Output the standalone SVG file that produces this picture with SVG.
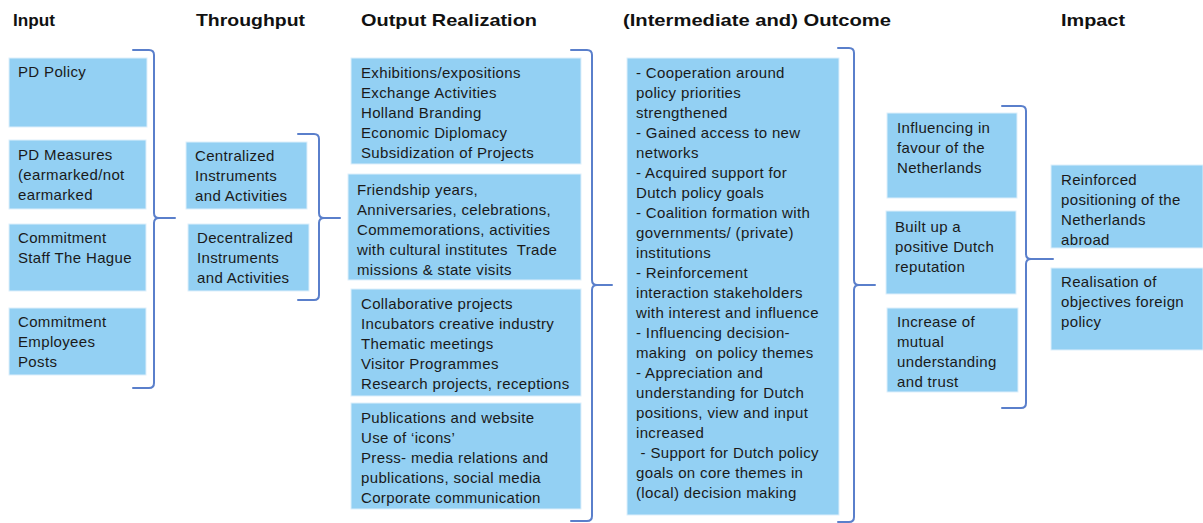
<svg xmlns="http://www.w3.org/2000/svg" width="1203" height="523" viewBox="0 0 1203 523">
  <style>
    .box { fill: #93D0F3; stroke: #DDEFFB; stroke-width: 1; }
    .hd { font-family: "Liberation Sans", Arial, sans-serif; font-weight: bold; font-size: 17px; fill: #111; }
    .tx { font-family: "Liberation Sans", Arial, sans-serif; font-size: 15px; letter-spacing: 0.35px; fill: #1a1a1a; white-space: pre; }
    .brace { fill: none; stroke: #5A7FCB; stroke-width: 2; stroke-linejoin: round; stroke-linecap: round; }
  </style>

  <!-- column headings -->
  <g id="headings">
    <text class="hd" x="13" y="26" textLength="42" lengthAdjust="spacingAndGlyphs">Input</text>
    <text class="hd" x="196" y="26" textLength="109" lengthAdjust="spacingAndGlyphs">Throughput</text>
    <text class="hd" x="361" y="26" textLength="176" lengthAdjust="spacingAndGlyphs">Output Realization</text>
    <text class="hd" x="623" y="26" textLength="268" lengthAdjust="spacingAndGlyphs">(Intermediate and) Outcome</text>
    <text class="hd" x="1061" y="26" textLength="64" lengthAdjust="spacingAndGlyphs">Impact</text>
  </g>

  <!-- Input column -->
  <g id="input-pd-policy">
    <rect class="box" x="9" y="58" width="138" height="69"/>
    <text class="tx" x="18" y="77">PD Policy</text>
  </g>
  <g id="input-pd-measures">
    <rect class="box" x="9" y="140" width="137" height="69"/>
    <text class="tx" x="18" y="160">PD Measures</text>
    <text class="tx" x="18" y="180">(earmarked/not</text>
    <text class="tx" x="18" y="200">earmarked</text>
  </g>
  <g id="input-staff">
    <rect class="box" x="9" y="224" width="137" height="67"/>
    <text class="tx" x="18" y="243">Commitment</text>
    <text class="tx" x="18" y="263">Staff The Hague</text>
  </g>
  <g id="input-employees">
    <rect class="box" x="9" y="308" width="137" height="67"/>
    <text class="tx" x="18" y="327">Commitment</text>
    <text class="tx" x="18" y="347">Employees</text>
    <text class="tx" x="18" y="367">Posts</text>
  </g>

  <!-- Throughput column -->
  <g id="throughput-centralized">
    <rect class="box" x="186" y="142" width="121" height="67"/>
    <text class="tx" x="195" y="161">Centralized</text>
    <text class="tx" x="195" y="181">Instruments</text>
    <text class="tx" x="195" y="201">and Activities</text>
  </g>
  <g id="throughput-decentralized">
    <rect class="box" x="188" y="224" width="121" height="67"/>
    <text class="tx" x="197" y="243">Decentralized</text>
    <text class="tx" x="197" y="263">Instruments</text>
    <text class="tx" x="197" y="283">and Activities</text>
  </g>

  <!-- Output realization column -->
  <g id="output-exhibitions">
    <rect class="box" x="351" y="58" width="230" height="106"/>
    <text class="tx" x="361" y="78">Exhibitions/expositions</text>
    <text class="tx" x="361" y="98">Exchange Activities</text>
    <text class="tx" x="361" y="118">Holland Branding</text>
    <text class="tx" x="361" y="138">Economic Diplomacy</text>
    <text class="tx" x="361" y="158">Subsidization of Projects</text>
  </g>
  <g id="output-friendship">
    <rect class="box" x="348" y="174" width="233" height="106"/>
    <text class="tx" x="357" y="195">Friendship years,</text>
    <text class="tx" x="357" y="215">Anniversaries, celebrations,</text>
    <text class="tx" x="357" y="235">Commemorations, activities</text>
    <text class="tx" x="357" y="255">with cultural institutes  Trade</text>
    <text class="tx" x="357" y="275">missions &amp; state visits</text>
  </g>
  <g id="output-collaborative">
    <rect class="box" x="351" y="289" width="230" height="107"/>
    <text class="tx" x="361" y="309">Collaborative projects</text>
    <text class="tx" x="361" y="329">Incubators creative industry</text>
    <text class="tx" x="361" y="349">Thematic meetings</text>
    <text class="tx" x="361" y="369">Visitor Programmes</text>
    <text class="tx" x="361" y="389">Research projects, receptions</text>
  </g>
  <g id="output-publications">
    <rect class="box" x="351" y="403" width="230" height="106"/>
    <text class="tx" x="361" y="423">Publications and website</text>
    <text class="tx" x="361" y="443">Use of ‘icons’</text>
    <text class="tx" x="361" y="463">Press- media relations and</text>
    <text class="tx" x="361" y="483">publications, social media</text>
    <text class="tx" x="361" y="503">Corporate communication</text>
  </g>

  <!-- Outcome column -->
  <g id="outcome">
    <rect class="box" x="627" y="58" width="212" height="457"/>
    <text class="tx" x="636" y="78">- Cooperation around</text>
    <text class="tx" x="636" y="98">policy priorities</text>
    <text class="tx" x="636" y="118">strengthened</text>
    <text class="tx" x="636" y="138">- Gained access to new</text>
    <text class="tx" x="636" y="158">networks</text>
    <text class="tx" x="636" y="178">- Acquired support for</text>
    <text class="tx" x="636" y="198">Dutch policy goals</text>
    <text class="tx" x="636" y="218">- Coalition formation with</text>
    <text class="tx" x="636" y="238">governments/ (private)</text>
    <text class="tx" x="636" y="258">institutions</text>
    <text class="tx" x="636" y="278">- Reinforcement</text>
    <text class="tx" x="636" y="298">interaction stakeholders</text>
    <text class="tx" x="636" y="318">with interest and influence</text>
    <text class="tx" x="636" y="338">- Influencing decision-</text>
    <text class="tx" x="636" y="358">making  on policy themes</text>
    <text class="tx" x="636" y="378">- Appreciation and</text>
    <text class="tx" x="636" y="398">understanding for Dutch</text>
    <text class="tx" x="636" y="418">positions, view and input</text>
    <text class="tx" x="636" y="438">increased</text>
    <text class="tx" x="636" y="458"> - Support for Dutch policy</text>
    <text class="tx" x="636" y="478">goals on core themes in</text>
    <text class="tx" x="636" y="498">(local) decision making</text>
  </g>

  <!-- Intermediate outcomes -->
  <g id="intermediate-influencing">
    <rect class="box" x="887" y="113" width="130" height="85"/>
    <text class="tx" x="897" y="133">Influencing in</text>
    <text class="tx" x="897" y="153">favour of the</text>
    <text class="tx" x="897" y="173">Netherlands</text>
  </g>
  <g id="intermediate-reputation">
    <rect class="box" x="886" y="211" width="130" height="83"/>
    <text class="tx" x="895" y="232">Built up a</text>
    <text class="tx" x="895" y="252">positive Dutch</text>
    <text class="tx" x="895" y="272">reputation</text>
  </g>
  <g id="intermediate-trust">
    <rect class="box" x="887" y="308" width="131" height="84"/>
    <text class="tx" x="897" y="327">Increase of</text>
    <text class="tx" x="897" y="347">mutual</text>
    <text class="tx" x="897" y="367">understanding</text>
    <text class="tx" x="897" y="387">and trust</text>
  </g>

  <!-- Impact column -->
  <g id="impact-positioning">
    <rect class="box" x="1051" y="165" width="152" height="83"/>
    <text class="tx" x="1061" y="185">Reinforced</text>
    <text class="tx" x="1061" y="205">positioning of the</text>
    <text class="tx" x="1061" y="225">Netherlands</text>
    <text class="tx" x="1061" y="245">abroad</text>
  </g>
  <g id="impact-objectives">
    <rect class="box" x="1051" y="268" width="152" height="82"/>
    <text class="tx" x="1061" y="287">Realisation of</text>
    <text class="tx" x="1061" y="307">objectives foreign</text>
    <text class="tx" x="1061" y="327">policy</text>
  </g>

  <!-- braces joining each column to the next -->
  <g id="connectors">
    <path class="brace" d="M133,50 H149 Q154,50 154,55 V213 Q154,218 159,218 H175 M159,218 Q154,218 154,223 V383 Q154,388 149,388 H133"/>
    <path class="brace" d="M298,134 H314 Q319,134 319,139 V213 Q319,218 324,218 H340 M324,218 Q319,218 319,223 V295 Q319,300 314,300 H298"/>
    <path class="brace" d="M571,50 H587 Q592,50 592,55 V280 Q592,285 597,285 H612 M597,285 Q592,285 592,290 V516 Q592,521 587,521 H571"/>
    <path class="brace" d="M838,48 H849 Q854,48 854,53 V280 Q854,285 859,285 H875 M859,285 Q854,285 854,290 V517 Q854,522 849,522 H838"/>
    <path class="brace" d="M1002,106 H1021 Q1026,106 1026,111 V254 Q1026,259 1031,259 H1053 M1031,259 Q1026,259 1026,264 V403 Q1026,408 1021,408 H1002"/>
  </g>
</svg>
